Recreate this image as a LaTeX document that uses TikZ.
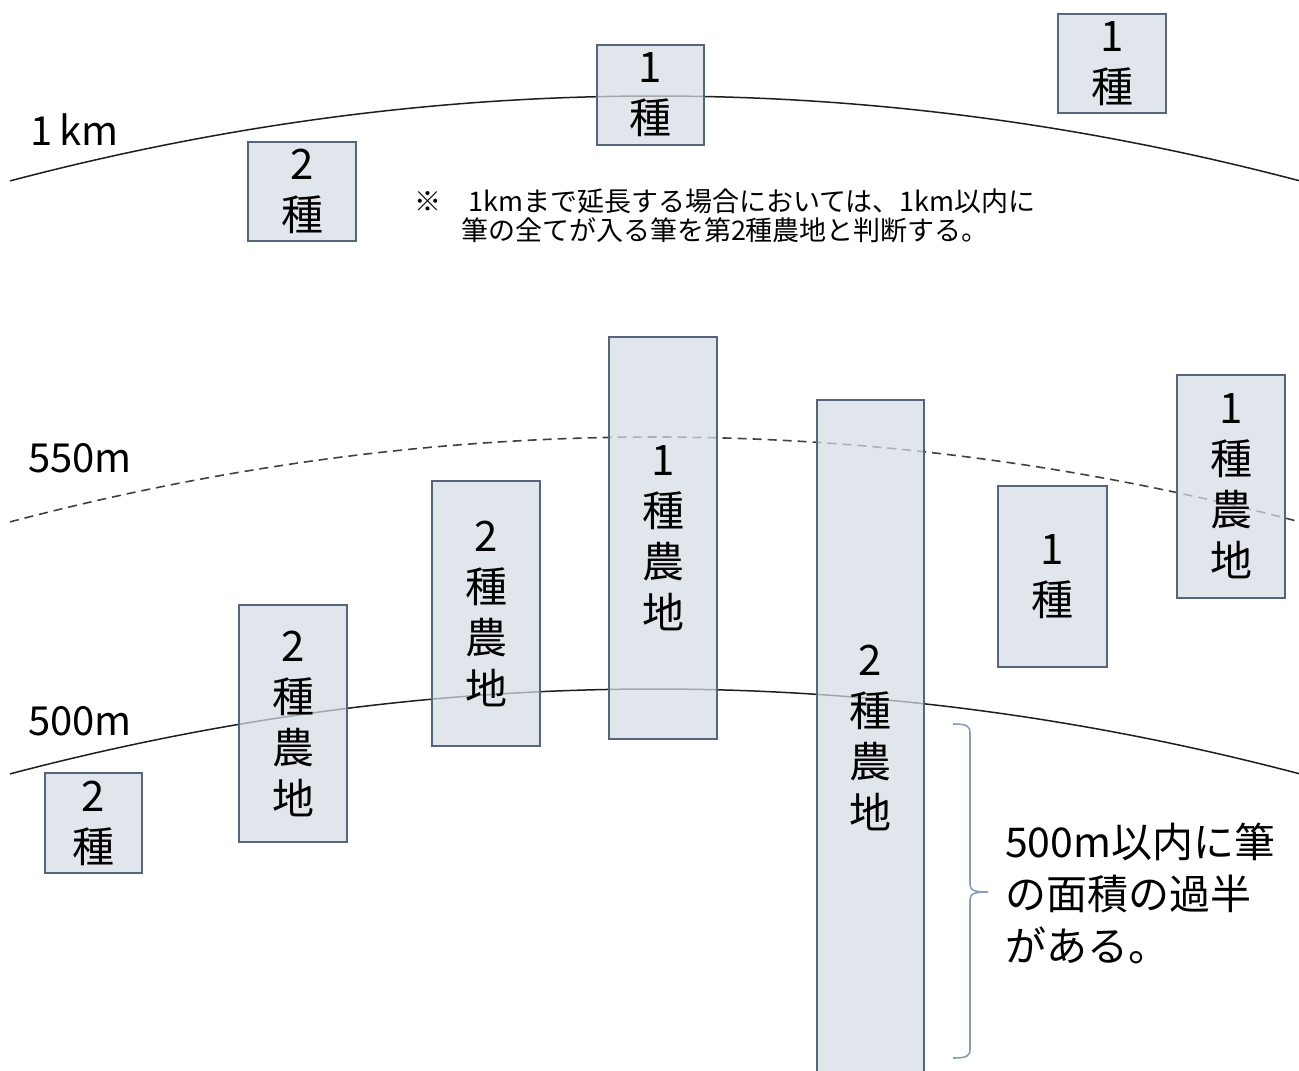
\documentclass[tikz,border=0pt]{standalone}
\usepackage{fontspec}
\setmainfont{Noto Sans CJK JP}
\definecolor{boxfill}{HTML}{D6DCE5}
\definecolor{boxline}{HTML}{55657C}
\definecolor{bracecol}{HTML}{8A9DB8}
\definecolor{curvecol}{HTML}{1E1E1E}
\tikzset{
  plotbox/.style={draw=boxline, fill=boxfill, fill opacity=0.72, text opacity=1,
    line width=1.4pt, inner sep=0pt, align=center, rectangle,
    font=\fontsize{42}{51}\selectfont},
  ringline/.style={draw=curvecol, line width=1.5pt},
  ringdash/.style={draw=curvecol!85, line width=1.6pt, dash pattern=on 9pt off 6pt},
  ringlabel/.style={anchor=west, inner sep=0pt, font=\fontsize{40}{48}\selectfont},
  bracepath/.style={draw=bracecol, line width=1.6pt},
}
\begin{document}
\begin{tikzpicture}[x=1pt, y=-1pt]
\useasboundingbox (0,0) rectangle (1299,1071);
\clip (0,0) rectangle (1299,1071);
\fill[white] (0,0) rectangle (1299,1071);

% distance rings
\draw[ringline] plot[domain=10:1299, samples=90] (\x, {96 + ((\x-655)/70)^2});
\draw[ringdash] plot[domain=10:1299, samples=90] (\x, {437 + ((\x-655)/70)^2});
\draw[ringline] plot[domain=10:1299, samples=90] (\x, {689 + ((\x-655)/70)^2});

% ring labels
\node[ringlabel] (l1km) at (30,130) {1\,km};
\node[ringlabel] (l550) at (28,458) {550m};
\node[ringlabel] (l500) at (28,721) {500m};

% plots
\node[plotbox, minimum width=107, minimum height=100] (b1) at (650.5,95) {1\\種};
\node[plotbox, minimum width=108, minimum height=99] (b2) at (1112,63.5) {1\\種};
\node[plotbox, minimum width=108, minimum height=99] (b3) at (302,191.5) {2\\種};
\node[plotbox, minimum width=108, minimum height=402] (b4) at (663,538) {1\\種\\農\\地};
\node[plotbox, minimum width=107, minimum height=675] (b5) at (870.5,737.5) {2\\種\\農\\地};
\node[plotbox, minimum width=108, minimum height=265] (b6) at (486,613.5) {2\\種\\農\\地};
\node[plotbox, minimum width=109, minimum height=181] (b7) at (1052.5,576.5) {1\\種};
\node[plotbox, minimum width=108, minimum height=223] (b8) at (1231,486.5) {1\\種\\農\\地};
\node[plotbox, minimum width=108, minimum height=237] (b9) at (293,723.5) {2\\種\\農\\地};
\node[plotbox, minimum width=97, minimum height=100] (b10) at (93.5,823) {2\\種};

% note
\node[inner sep=0pt, align=center, font=\fontsize{27}{29}\selectfont] (note) at (725,216)
  {※　1kmまで延長する場合においては、1km以内に\\筆の全てが入る筆を第2種農地と判断する。};

% brace and explanation
\coordinate (brtop) at (953,724);
\coordinate (brtip) at (988,892);
\coordinate (brbot) at (953,1058);
\draw[bracepath] (brtop) .. controls (967,724) and (970,726) .. (970,733) -- (970,884)
  .. controls (970,890) and (973,892) .. (brtip);
\draw[bracepath] (brtip) .. controls (973,892) and (970,894) .. (970,900) -- (970,1049)
  .. controls (970,1056) and (967,1058) .. (brbot);
\node[anchor=west, inner sep=0pt, align=left, font=\fontsize{41}{52}\selectfont] (expl) at (1005,893)
  {500m以内に筆\\の面積の過半\\がある。};
\end{tikzpicture}
\end{document}
